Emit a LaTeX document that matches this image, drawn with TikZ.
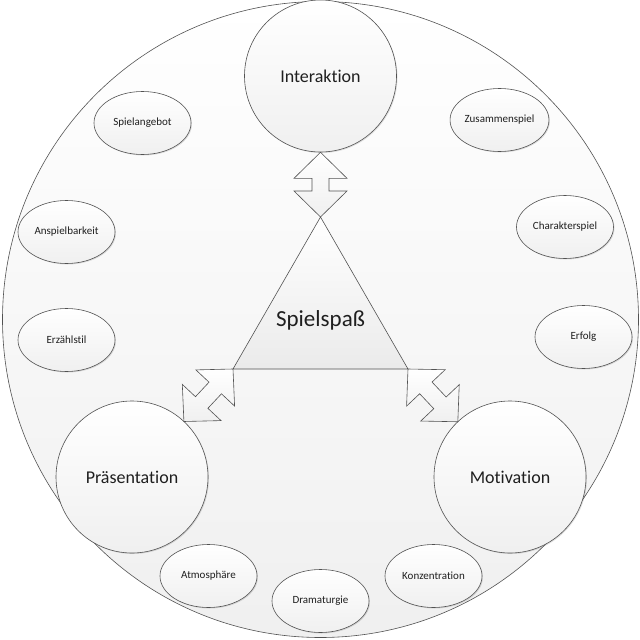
\documentclass[tikz,border=0pt]{standalone}
\usepackage{fontspec}
\setmainfont{Carlito}[Ligatures={NoCommon}]
\usetikzlibrary{calc,shadows,shapes.geometric}
\tikzset{
  shapefill/.style={top color=white, bottom color=black!6, draw=black!68, line width=0.6pt},
  softshadow/.style={drop shadow={shadow xshift=1pt, shadow yshift=-1pt, opacity=0.12, fill=black}},
  bigc/.style={circle, shapefill, softshadow, minimum size=152pt, inner sep=0pt, font=\fontsize{18}{21}\selectfont, text=black!88},
  smalle/.style={ellipse, shapefill, softshadow, minimum width=97pt, minimum height=63pt, inner sep=0pt, font=\fontsize{11}{13}\selectfont, text=black!88},
  arrowbox/.style={top color=white, bottom color=black!6, draw=black!68, line width=0.6pt, line join=miter},
  tribox/.style={top color=white, bottom color=black!8, draw=black!68, line width=0.6pt}
}
\newcommand\dblarrow[2]{%
  \coordinate (ha) at ($(#1)!26pt!(#2)$);
  \coordinate (hb) at ($(#2)!26pt!(#1)$);
  \draw[arrowbox] (#1) -- ($(ha)!26.5pt!90:(#2)$) -- ($(ha)!8.5pt!90:(#2)$)
    -- ($(hb)!8.5pt!-90:(#1)$) -- ($(hb)!26.5pt!-90:(#1)$) -- (#2)
    -- ($(hb)!26.5pt!90:(#1)$) -- ($(hb)!8.5pt!90:(#1)$)
    -- ($(ha)!8.5pt!-90:(#2)$) -- ($(ha)!26.5pt!-90:(#2)$) -- cycle;}
\begin{document}
\begin{tikzpicture}[x=1pt,y=-1pt]
\useasboundingbox (0,0) rectangle (640,640);
% outer circle
\node[circle, top color=white, bottom color=black!6, draw=black!68, line width=0.6pt, minimum size=636pt, inner sep=0pt] (outer) at (320.5,319.5) {};
% triangle
\coordinate (tA) at (320.5,217);
\coordinate (tL) at (233,369);
\coordinate (tR) at (408,369);
\draw[tribox] (tA) -- (tR) -- (tL) -- cycle;
\node[font=\fontsize{23}{26}\selectfont, text=black!88] (spass) at (320.5,320) {Spielspaß};
% main circles
\node[bigc] (I) at (320.5,76) {Interaktion};
\node[bigc] (P) at (132,477) {Präsentation};
\node[bigc] (M) at (510,477) {Motivation};
% arrow endpoints
\coordinate (iI) at (I.south);
\coordinate (pP) at ($(P.center)!76pt!(tL)$);
\coordinate (mM) at ($(M.center)!76pt!(tR)$);
\dblarrow{tA}{iI}
\dblarrow{tL}{pP}
\dblarrow{tR}{mM}
% small ellipses
\node[smalle] (e1) at (142.5,123) {Spielangebot};
\node[smalle] (e2) at (499.5,120) {Zusammenspiel};
\node[smalle] (e3) at (66.5,232) {Anspielbarkeit};
\node[smalle] (e4) at (565,227) {Charakterspiel};
\node[smalle] (e5) at (66.5,340) {Erzählstil};
\node[smalle] (e6) at (583.5,337) {Erfolg};
\node[smalle] (e7) at (208.5,576) {Atmosphäre};
\node[smalle] (e8) at (320.5,601) {Dramaturgie};
\node[smalle] (e9) at (433.5,576) {Konzentration};
\end{tikzpicture}
\end{document}
